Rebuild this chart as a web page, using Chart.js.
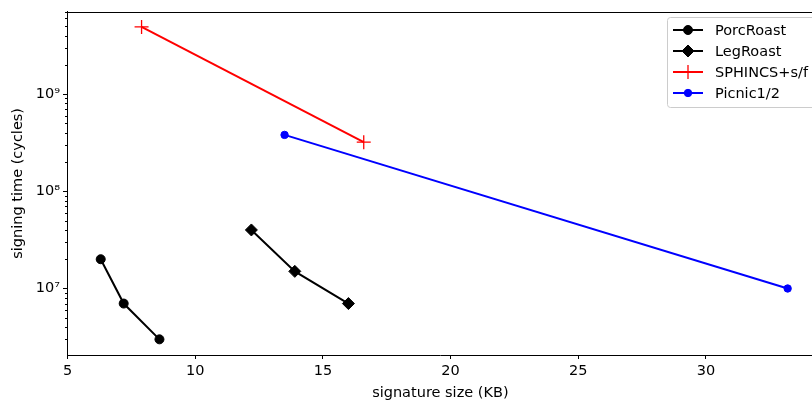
<!DOCTYPE html>
<html>
<head>
<meta charset="utf-8">
<script src="https://cdn.jsdelivr.net/npm/chart.js@4/dist/chart.umd.min.js"></script>
<style>
  html, body { margin: 0; padding: 0; background: #fff; overflow: hidden; }
  #wrap { width: 822px; height: 400px; }
</style>
</head>
<body>
<div id="wrap"><canvas id="chart" width="822" height="400"></canvas></div>
<script>
// signature size (KB) and signing time (cycles) per scheme
const porcSize = [6.3, 7.2, 8.6];
const porcTime = [2e7, 7e6, 3e6];
const legSize = [12.2, 13.9, 16.0];
const legTime = [4e7, 1.5e7, 7e6];
const sphincsSize = [7.9, 16.6];
const sphincsTime = [4.9e9, 3.2e8];
const picnicSize = [13.5, 33.2];
const picnicTime = [3.8e8, 1e7];

const seriesNames = ["PorcRoast", "LegRoast", "SPHINCS+s/f", "Picnic1/2"];
const xTicks = [5, 10, 15, 20, 25, 30];
const yMajorTicks = [1e7, 1e8, 1e9];
const supers = { 6: "⁶", 7: "⁷", 8: "⁸", 9: "⁹" };

const FONT = "'DejaVu Sans', sans-serif";
const FSIZE = 14.5;
const toPoints = (xs, ys) => xs.map((x, i) => ({ x: x, y: ys[i] }));

// matplotlib style: top spine, minor ticks, legend box
const extras = {
  id: "extras",
  afterDraw(chart) {
    const ctx = chart.ctx;
    const area = chart.chartArea;
    const yScale = chart.scales.y;
    ctx.save();
    ctx.strokeStyle = "#000";
    ctx.lineWidth = 1;
    ctx.beginPath();
    ctx.moveTo(area.left, Math.round(area.top) + 0.5);
    ctx.lineTo(area.right + 10, Math.round(area.top) + 0.5);
    ctx.stroke();

    // minor ticks on the log axis
    yScale.ticks.forEach(t => {
      if (yMajorTicks.includes(t.value)) return;
      const py = Math.round(yScale.getPixelForValue(t.value)) + 0.5;
      ctx.beginPath();
      ctx.moveTo(area.left - 2, py);
      ctx.lineTo(area.left, py);
      ctx.stroke();
    });

    // legend
    const right = 816;
    const left = 667;
    const top = 17.5;
    ctx.fillStyle = "rgba(255,255,255,0.8)";
    ctx.strokeStyle = "rgba(204,204,204,1)";
    ctx.beginPath();
    ctx.roundRect(left + 0.5, top, right - left, 90, 3);
    ctx.fill();
    ctx.stroke();
    chart.data.datasets.forEach((ds, i) => {
      const cy = 30 + i * 21;
      const x0 = left + 6;
      ctx.strokeStyle = ds.borderColor;
      ctx.lineWidth = 2;
      ctx.beginPath();
      ctx.moveTo(x0, cy);
      ctx.lineTo(x0 + 30, cy);
      ctx.stroke();
      ctx.fillStyle = ds.pointBackgroundColor;
      ctx.strokeStyle = ds.borderColor;
      ctx.lineWidth = ds.pointBorderWidth;
      Chart.helpers.drawPoint(ctx, {
        pointStyle: ds.pointStyle,
        radius: ds.pointRadius,
        rotation: 0,
        borderWidth: ds.pointBorderWidth
      }, x0 + 15, cy);
      ctx.fillStyle = "#000";
      ctx.font = FSIZE + "px " + FONT;
      ctx.textBaseline = "middle";
      ctx.fillText(ds.label, x0 + 42, cy + 1);
    });
    ctx.restore();
  }
};

new Chart(document.getElementById("chart"), {
  type: "line",
  data: {
    datasets: [
      {
        label: seriesNames[0],
        data: toPoints(porcSize, porcTime),
        borderColor: "#000",
        pointBackgroundColor: "#000",
        pointStyle: "circle",
        pointRadius: 4.5,
        pointBorderWidth: 1,
        borderWidth: 2
      },
      {
        label: seriesNames[1],
        data: toPoints(legSize, legTime),
        borderColor: "#000",
        pointBackgroundColor: "#000",
        pointStyle: "rectRot",
        pointRadius: 6,
        pointBorderWidth: 1,
        borderWidth: 2
      },
      {
        label: seriesNames[2],
        data: toPoints(sphincsSize, sphincsTime),
        borderColor: "#ff0000",
        pointBackgroundColor: "#ff0000",
        pointStyle: "cross",
        pointRadius: 7,
        pointBorderWidth: 1.3,
        borderWidth: 2
      },
      {
        label: seriesNames[3],
        data: toPoints(picnicSize, picnicTime),
        borderColor: "#0000ff",
        pointBackgroundColor: "#0000ff",
        pointStyle: "circle",
        pointRadius: 3.7,
        pointBorderWidth: 1,
        borderWidth: 2
      }
    ]
  },
  options: {
    responsive: false,
    animation: false,
    layout: { padding: { top: 10.5, right: 0, left: 0, bottom: 0 } },
    elements: { line: { tension: 0 } },
    plugins: {
      legend: { display: false },
      tooltip: { enabled: false }
    },
    scales: {
      x: {
        type: "linear",
        min: 4.98,
        max: 34.22,
        afterBuildTicks: s => { s.ticks = xTicks.map(v => ({ value: v })); },
        afterFit: s => { s.height = 45; },
        grid: {
          drawOnChartArea: false,
          drawTicks: true,
          tickLength: 4,
          tickColor: "#000"
        },
        border: { color: "#000", width: 1 },
        ticks: {
          color: "#000",
          font: { family: FONT, size: FSIZE },
          padding: 4,
          maxRotation: 0
        },
        title: {
          display: true,
          text: "signature size (KB)",
          color: "#000",
          font: { family: FONT, size: FSIZE, lineHeight: 1.0 },
          padding: { top: 0, bottom: 0 }
        }
      },
      y: {
        type: "logarithmic",
        min: 2.07e6,
        max: 7.03e9,
        afterBuildTicks: s => {
          const ticks = [];
          for (let e = 6; e <= 9; e++) {
            for (let m = 1; m <= 9; m++) {
              const v = m * Math.pow(10, e);
              if (v >= s.min && v <= s.max) ticks.push({ value: v, major: m === 1 });
            }
          }
          s.ticks = ticks;
        },
        afterFit: s => { s.width = 67; },
        grid: {
          drawOnChartArea: false,
          drawTicks: true,
          tickLength: 4,
          tickColor: ctx => (ctx.tick && yMajorTicks.includes(ctx.tick.value)) ? "#000" : "rgba(0,0,0,0)"
        },
        border: { color: "#000", width: 1 },
        ticks: {
          color: "#000",
          font: { family: FONT, size: FSIZE },
          padding: 3,
          autoSkip: false,
          callback: v => {
            if (!yMajorTicks.includes(v)) return "";
            return "10" + supers[Math.round(Math.log10(v))];
          }
        },
        title: {
          display: true,
          text: "signing time (cycles)",
          color: "#000",
          font: { family: FONT, size: FSIZE },
          padding: { top: 10, bottom: 0 }
        }
      }
    }
  },
  plugins: [extras]
});
</script>
</body>
</html>
